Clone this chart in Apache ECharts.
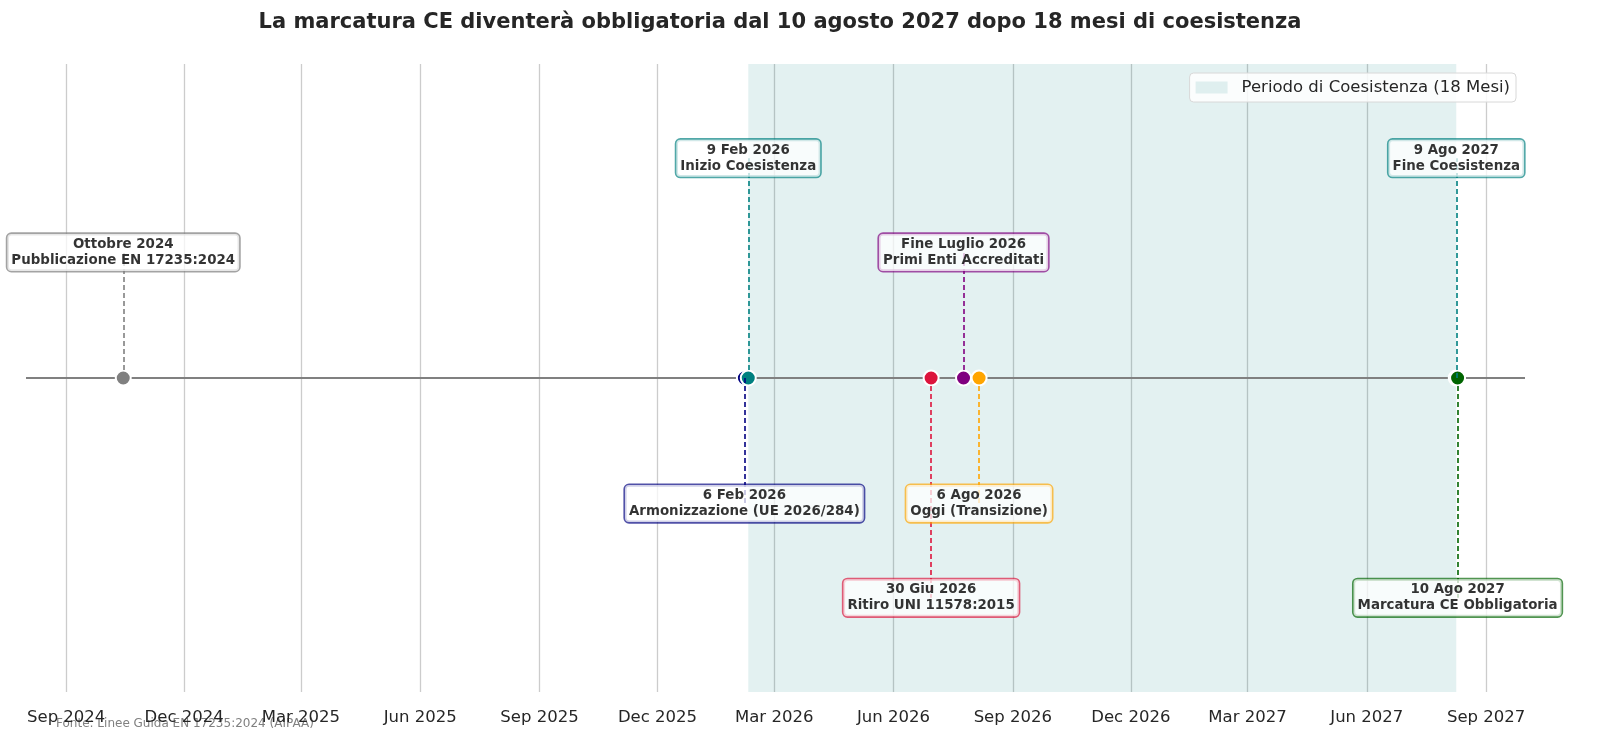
<!DOCTYPE html>
<html>
<head>
<meta charset="utf-8">
<script src="https://cdn.jsdelivr.net/npm/echarts@6/dist/echarts.min.js"></script>
<style>
  html, body { margin: 0; padding: 0; background: #fff; }
  #chart { width: 1600px; height: 756px; }
</style>
</head>
<body>
<div id="chart"></div>
<script>
// axis range and quarterly ticks
var xMin = '2024-08-01';
var xMax = '2027-10-01';
var tickDates = ['2024-09-01', '2024-12-01', '2025-03-01', '2025-06-01', '2025-09-01', '2025-12-01',
    '2026-03-01', '2026-06-01', '2026-09-01', '2026-12-01', '2027-03-01', '2027-06-01', '2027-09-01'];
var tickLabels = ['Sep 2024', 'Dec 2024', 'Mar 2025', 'Jun 2025', 'Sep 2025', 'Dec 2025',
    'Mar 2026', 'Jun 2026', 'Sep 2026', 'Dec 2026', 'Mar 2027', 'Jun 2027', 'Sep 2027'];

// coexistence period
var coexStart = '2026-02-09';
var coexEnd = '2027-08-09';

// timeline events
var eventDates = ['2024-10-15', '2026-02-06', '2026-02-09', '2026-06-30', '2026-07-25', '2026-08-06', '2027-08-09', '2027-08-10'];
var eventTitles = ['Ottobre 2024', '6 Feb 2026', '9 Feb 2026', '30 Giu 2026', 'Fine Luglio 2026', '6 Ago 2026', '9 Ago 2027', '10 Ago 2027'];
var eventDescs = ['Pubblicazione EN 17235:2024', 'Armonizzazione (UE 2026/284)', 'Inizio Coesistenza', 'Ritiro UNI 11578:2015',
    'Primi Enti Accreditati', 'Oggi (Transizione)', 'Fine Coesistenza', 'Marcatura CE Obbligatoria'];
var eventLevels = [0.4, -0.4, 0.7, -0.7, 0.4, -0.4, 0.7, -0.7];

// colours, one per event
var eventColors = ['#808080', '#000080', '#008080', '#dc143c', '#800080', '#ffa500', '#008080', '#006400'];
var borderColors = ['rgba(128,128,128,0.9)', 'rgba(0,0,128,0.85)', 'rgba(0,128,128,0.85)', 'rgba(220,20,60,0.85)',
    'rgba(128,0,128,0.85)', 'rgba(255,165,0,0.85)', 'rgba(0,128,128,0.85)', 'rgba(0,100,0,0.85)'];

var FONT = 'DejaVu Sans';
var ts = function (s) { return new Date(s + 'T00:00:00').getTime(); };

var chart = echarts.init(document.getElementById('chart'));

var tickValues = tickDates.map(ts);

var pointData = eventDates.map(function (d, i) {
    return { value: [ts(d), 0], itemStyle: { color: eventColors[i] } };
});

var connectorData = eventDates.map(function (d, i) {
    return [
        { coord: [ts(d), 0], lineStyle: { color: eventColors[i] } },
        { coord: [ts(d), eventLevels[i]] }
    ];
});

var labelData = eventDates.map(function (d, i) {
    return {
        value: [ts(d), eventLevels[i]],
        label: { borderColor: borderColors[i] }
    };
});

var option = {
    animation: false,
    backgroundColor: '#ffffff',
    title: {
        text: 'La marcatura CE diventerà obbligatoria dal 10 agosto 2027 dopo 18 mesi di coesistenza',
        left: 775,
        top: 7,
        textAlign: 'center',
        textStyle: { fontFamily: FONT, fontSize: 21, fontWeight: 'bold', color: '#262626' }
    },
    legend: {
        data: [{ name: 'Periodo di Coesistenza (18 Mesi)', icon: 'rect' }],
        right: 84,
        top: 73,
        itemWidth: 32,
        itemHeight: 12,
        padding: [6, 6, 6, 6],
        backgroundColor: 'rgba(255,255,255,0.85)',
        borderColor: '#d8d8d8',
        borderWidth: 1,
        borderRadius: 4,
        textStyle: { fontFamily: FONT, fontSize: 16.5, color: '#262626', padding: [0, 0, 0, 9] }
    },
    grid: { left: 26, right: 75, top: 64, bottom: 64 },
    xAxis: {
        type: 'value',
        min: ts(xMin),
        max: ts(xMax),
        axisLine: { show: false },
        axisTick: { show: false, customValues: tickValues },
        splitLine: { show: true, lineStyle: { color: '#cccccc', width: 1.3 } },
        axisLabel: {
            customValues: tickValues,
            margin: 17,
            fontFamily: FONT,
            fontSize: 16.5,
            color: '#262626',
            formatter: function (v) {
                var i = tickValues.indexOf(v);
                return i >= 0 ? tickLabels[i] : '';
            }
        }
    },
    yAxis: {
        type: 'value',
        min: -1,
        max: 1,
        show: false,
        splitLine: { show: false }
    },
    series: [
        {
            name: 'Periodo di Coesistenza (18 Mesi)',
            type: 'line',
            data: [],
            itemStyle: { color: 'rgba(0,128,128,0.11)', borderColor: 'rgba(0,128,128,0.18)' },
            markArea: {
                silent: true,
                itemStyle: { color: 'rgba(0,128,128,0.11)' },
                data: [[{ xAxis: ts(coexStart) }, { xAxis: ts(coexEnd) }]]
            },
            z: 1
        },
        {
            name: 'baseline',
            type: 'line',
            data: [[ts(xMin), 0], [ts(xMax), 0]],
            symbol: 'none',
            lineStyle: { color: '#808080', width: 2 },
            silent: true,
            z: 2
        },
        {
            name: 'connectors',
            type: 'scatter',
            data: [],
            markLine: {
                silent: true,
                symbol: ['none', 'none'],
                label: { show: false },
                lineStyle: { type: [5, 3], width: 1.6 },
                data: connectorData
            },
            z: 3
        },
        {
            name: 'events',
            type: 'scatter',
            data: pointData,
            symbolSize: 15,
            itemStyle: { borderColor: '#ffffff', borderWidth: 2, opacity: 1 },
            z: 4
        },
        {
            name: 'labels',
            type: 'scatter',
            data: labelData,
            symbolSize: 0,
            z: 5,
            label: {
                show: true,
                position: 'inside',
                formatter: function (p) {
                    var i = p.dataIndex;
                    return eventTitles[i] + '\n' + eventDescs[i];
                },
                fontFamily: FONT,
                fontSize: 13.4,
                fontWeight: 'bold',
                color: '#000000',
                lineHeight: 16,
                align: 'center',
                backgroundColor: 'rgba(255,255,255,0.92)',
                borderWidth: 1.6,
                borderRadius: 4,
                padding: [3, 4, 2, 4]
            }
        }
    ],
    graphic: [
        {
            type: 'text',
            left: 56,
            top: 718,
            style: {
                text: 'Fonte: Linee Guida EN 17235:2024 (AIPAA)',
                fontFamily: FONT,
                fontSize: 12,
                fill: '#808080'
            }
        }
    ]
};

chart.setOption(option);
</script>
</body>
</html>
